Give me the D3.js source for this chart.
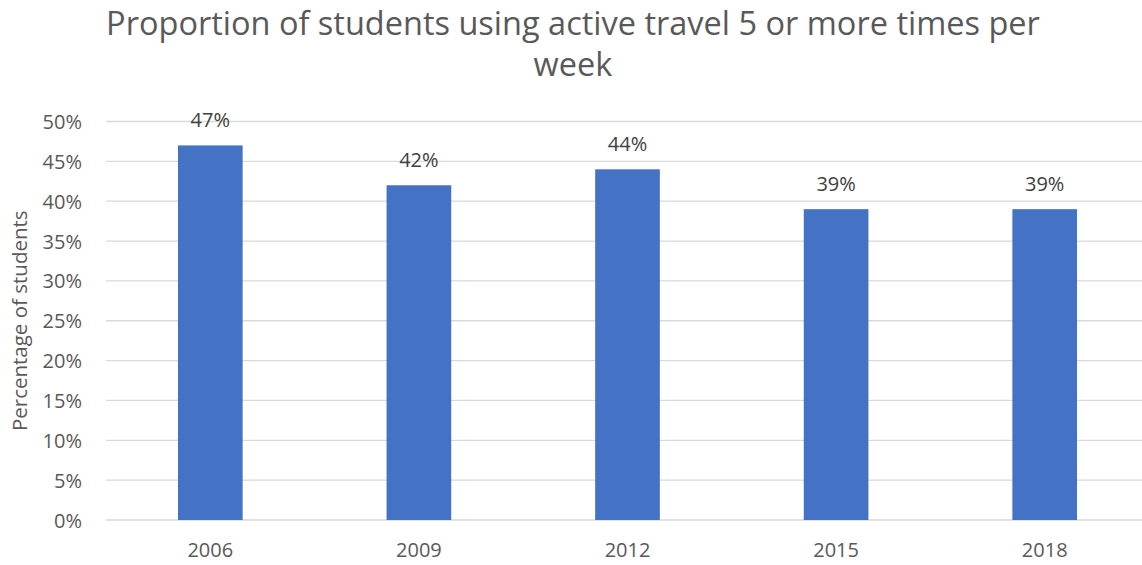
<!DOCTYPE html>
<html>
<head>
<meta charset="utf-8">
<script src="https://cdn.jsdelivr.net/npm/d3@7"></script>
<style>
  html, body { margin: 0; padding: 0; background: #fff; overflow: hidden; }
  svg { display: block; font-family: "Open Sans", "Noto Sans", sans-serif; }
</style>
</head>
<body>
<svg id="chart" width="1142" height="565"></svg>
<script>
// Survey years and share of students using active travel 5+ times per week
const years = ["2006", "2009", "2012", "2015", "2018"];
const shares = [47, 42, 44, 39, 39];
const yTicks = [0, 5, 10, 15, 20, 25, 30, 35, 40, 45, 50];
const titleLines = ["Proportion of students using active travel 5 or more times per", "week"];
const yAxisTitle = "Percentage of students";

const svg = d3.select("#chart");
const W = 1142, H = 565;
const margin = { left: 106, right: -7, top: 121.5, bottom: 45 };

const x = d3.scaleBand()
  .domain(years)
  .range([margin.left, W - margin.right])
  .paddingInner(0.69)
  .paddingOuter(0.345);

const y = d3.scaleLinear()
  .domain([0, 50])
  .range([H - margin.bottom, margin.top]);

// horizontal gridlines
svg.append("g")
  .selectAll("line")
  .data(yTicks)
  .join("line")
  .attr("x1", margin.left)
  .attr("x2", W - margin.right)
  .attr("y1", d => y(d))
  .attr("y2", d => y(d))
  .attr("stroke", "#d9d9d9")
  .attr("stroke-width", 1.3);

// y tick labels
const yAxis = d3.axisLeft(y).tickValues(yTicks).tickFormat(d => d + "%").tickSize(0).tickPadding(0);
const gy = svg.append("g").attr("transform", `translate(82,0)`).call(yAxis);
gy.select(".domain").remove();
gy.selectAll("text")
  .attr("fill", "#595959")
  .attr("dy", "0.35em")
  .style("font-size", "20px")
  .style("font-family", "'Open Sans', sans-serif");

// bars
svg.append("g")
  .selectAll("rect")
  .data(years)
  .join("rect")
  .attr("x", d => x(d))
  .attr("width", x.bandwidth())
  .attr("y", (d, i) => y(shares[i]))
  .attr("height", (d, i) => y(0) - y(shares[i]))
  .attr("fill", "#4472c4");

// value labels
svg.append("g")
  .selectAll("text")
  .data(years)
  .join("text")
  .attr("x", d => x(d) + x.bandwidth() / 2)
  .attr("y", (d, i) => y(shares[i]) - 18)
  .attr("text-anchor", "middle")
  .attr("fill", "#404040")
  .style("font-size", "20px")
  .text((d, i) => shares[i] + "%");

// x axis labels
const xAxis = d3.axisBottom(x).tickSize(0).tickPadding(0);
const gx = svg.append("g").attr("transform", `translate(0,${y(0)})`).call(xAxis);
gx.select(".domain").remove();
gx.selectAll("text")
  .attr("fill", "#595959")
  .attr("dy", null)
  .attr("y", 37)
  .style("font-size", "20px")
  .style("font-family", "'Open Sans', sans-serif");

// y axis title
svg.append("text")
  .attr("transform", `translate(27,${(y(0) + y(50)) / 2}) rotate(-90)`)
  .attr("text-anchor", "middle")
  .attr("fill", "#595959")
  .style("font-size", "20.5px")
  .text(yAxisTitle);

// chart title
svg.append("g")
  .selectAll("text")
  .data(titleLines)
  .join("text")
  .attr("x", 573)
  .attr("y", (d, i) => 35 + i * 41)
  .attr("text-anchor", "middle")
  .attr("fill", "#595959")
  .style("font-size", "32.5px")
  .text(d => d);
</script>
</body>
</html>
